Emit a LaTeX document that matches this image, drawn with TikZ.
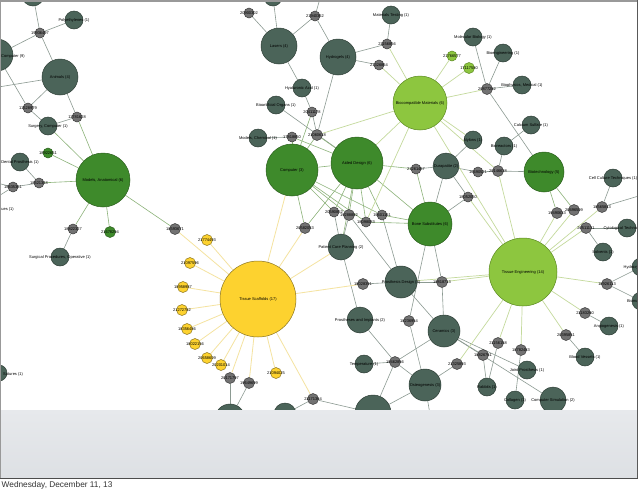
\documentclass[tikz,border=0pt]{standalone}
\usepackage{fontspec}
\setmainfont{Liberation Sans}
\pgfdeclarelayer{bgl}
\pgfdeclarelayer{edges}
\pgfsetlayers{bgl,edges,main}
\definecolor{slate}{HTML}{4B6459}
\definecolor{slatebd}{HTML}{2E3E36}
\definecolor{grayn}{HTML}{727272}
\definecolor{graybd}{HTML}{3A3A3A}
\definecolor{dkg}{HTML}{3E8A2B}
\definecolor{dkgbd}{HTML}{2A5E1C}
\definecolor{ltg}{HTML}{8DC63F}
\definecolor{ltgbd}{HTML}{5C8A22}
\definecolor{yel}{HTML}{FDD22F}
\definecolor{yelbd}{HTML}{8A7420}
\definecolor{egc}{HTML}{8C9A92}
\definecolor{edgc}{HTML}{8DB37A}
\definecolor{elgc}{HTML}{C4DA9C}
\definecolor{eyc}{HTML}{F5E3A0}
\definecolor{bandtop}{HTML}{E7E9EC}
\definecolor{bandbot}{HTML}{DDE0E4}
\tikzset{
  nd/.style={circle, inner sep=0pt, line width=0.5pt},
  sl/.style={nd, fill=slate, draw=slatebd},
  gr/.style={nd, fill=grayn, draw=graybd},
  dg/.style={nd, fill=dkg, draw=dkgbd},
  lg/.style={nd, fill=ltg, draw=ltgbd},
  yl/.style={nd, fill=yel, draw=yelbd},
  lbl/.style={font=\fontsize{4}{5}\selectfont, text=black, inner sep=0pt},
  eg/.style={draw=egc, line width=0.6pt},
  edg/.style={draw=edgc, line width=0.6pt},
  elg/.style={draw=elgc, line width=0.7pt},
  ey/.style={draw=eyc, line width=0.8pt},
}
\newcommand\mynode[6]{\node[#5, minimum size={2*#4pt}] (#1) at (#2,#3) {};\node[lbl] at (#1.center) {#6};}
\begin{document}
\begin{tikzpicture}[x=1pt,y=-1pt]
\useasboundingbox (0,0) rectangle (638,491);
\begin{pgfonlayer}{bgl}
\fill[white] (0,0) rectangle (638,491);
\end{pgfonlayer}
% ---- top left
\mynode{t0}{33}{-5}{11}{sl}{}
\mynode{poly}{74}{20}{9}{sl}{Polyethylenes (1)}
\mynode{g19936497}{40}{33}{5}{gr}{19936497}
\node[sl, minimum size=32pt] (comp9) at (-3,55) {};
\node[lbl, anchor=west] at (1,56) {Computer (9)};
\mynode{anim}{60}{77}{18}{sl}{Animals (4)}
\mynode{g11528979}{28}{108}{5}{gr}{11528979}
\mynode{g11781628}{77}{117}{5}{gr}{11781628}
\mynode{surgc}{48}{126}{9}{sl}{Surgery, Computer (1)}
\mynode{grn18922651}{48}{153}{5}{dg}{18922651}
\mynode{dental}{20}{162}{9}{sl}{Dental Prosthesis (1)}
\mynode{g18521348}{39}{183}{5}{gr}{18521348}
\mynode{g18635361}{13}{187}{5}{gr}{18635361}
\node[sl, minimum size=18pt] (tissues) at (-22,209) {};
\node[lbl, anchor=east] at (14,209) {Tissues (1)};
\mynode{modanat}{103}{180}{27}{dg}{Models, Anatomical (6)}
\mynode{g18822327}{73}{229}{5}{gr}{18822327}
\mynode{grn21678294}{110}{232}{5.5}{dg}{21678294}
\mynode{g18593671}{175}{229}{5.5}{gr}{18593671}
\mynode{surgproc}{60}{257}{9}{sl}{Surgical Procedures, Operative (1)}
\node[sl, minimum size=16pt] (sutures) at (-1,373) {};
\node[lbl, anchor=west] at (3,374) {Sutures (1)};
% ---- top middle
\mynode{ttop}{273}{-3}{9}{sl}{}
\mynode{g20900302}{249}{13}{5}{gr}{20900302}
\mynode{g21940362}{315}{16}{5}{gr}{21940362}
\mynode{lasers}{279}{46}{18}{sl}{Lasers (4)}
\mynode{hydro}{338}{57}{18}{sl}{Hydrogels (4)}
\mynode{mattest}{391}{15}{9}{sl}{Materials Testing (1)}
\mynode{g21156856}{387}{44}{5}{gr}{21156856}
\mynode{g21326864}{379}{65}{5}{gr}{21326864}
\mynode{hyal}{302}{88}{9}{sl}{Hyaluronic Acid (1)}
\mynode{bioart}{276}{105}{9}{sl}{Bioartificial Organs (1)}
\mynode{g20411178}{312}{112}{5}{gr}{20411178}
\mynode{g21060618}{317}{135}{5.5}{gr}{21060618}
\mynode{modchem}{258}{138}{9}{sl}{Models, Chemical (1)}
\mynode{g17818850}{292}{137}{5}{gr}{17818850}
\mynode{biocomp}{420}{103}{27}{lg}{Biocompatible Materials (6)}
\mynode{lg21766577}{452}{56}{5}{lg}{21766577}
\mynode{lg17117580}{469}{68}{5.5}{lg}{17117580}
\mynode{molbio}{473}{37}{9}{sl}{Molecular Biology (1)}
\mynode{bioeng}{503}{53}{9}{sl}{Bioengineering (1)}
\mynode{g20877282}{487}{89}{5.5}{gr}{20877282}
\mynode{biophys}{522}{85}{9}{sl}{Biophysics, Medical (1)}
\mynode{calsulf}{531}{125}{9}{sl}{Calcium Sulfate (1)}
\mynode{nylons}{473}{140}{9}{sl}{Nylons (1)}
\mynode{bioreact}{504}{146}{9}{sl}{Bioreactors (1)}
% ---- middle
\mynode{computer3}{292}{170}{26}{dg}{Computer (3)}
\mynode{aided}{357}{163}{26}{dg}{Aided Design (6)}
\mynode{g21261467}{416}{169}{5}{gr}{21261467}
\mynode{durap}{446}{166}{13}{sl}{Durapatite (2)}
\mynode{g16690521}{478}{172}{5}{gr}{16690521}
\mynode{g20146638}{498}{171}{5.5}{gr}{20146638}
\mynode{biotech}{544}{172}{20}{dg}{Biotechnology (5)}
\mynode{g18052050}{468}{197}{5}{gr}{18052050}
\mynode{g20590852}{334}{212}{5}{gr}{20590852}
\mynode{g19288882}{349}{215}{5.5}{gr}{19288882}
\mynode{g19601161}{382}{215}{5}{gr}{19601161}
\mynode{g18098083}{366}{222}{5}{gr}{18098083}
\mynode{g20582053}{305}{228}{5.5}{gr}{20582053}
\mynode{bonesub}{430}{224}{22}{dg}{Bone Substitutes (6)}
\mynode{patcare}{341}{247}{13}{sl}{Patient Care Planning (2)}
\mynode{cellcult}{613}{178}{9}{sl}{Cell Culture Techniques (1)}
\mynode{g18565843}{602}{207}{5.5}{gr}{18565843}
\mynode{g19490633}{557}{213}{5.5}{gr}{19490633}
\mynode{g20496509}{574}{210}{5.5}{gr}{20496509}
\mynode{g20511131}{586}{228}{5.5}{gr}{20511131}
\mynode{cytol}{627}{228}{9}{sl}{Cytological Techniques (1)}
\mynode{solv}{603}{252}{9}{sl}{Solvents (1)}
\mynode{hydrox}{641}{267}{9}{sl}{Hydroxyapatites (1)}
% ---- scaffolds
\mynode{y21774493}{207}{240}{5.5}{yl}{21774493}
\mynode{y21097596}{190}{263}{5.5}{yl}{21097596}
\mynode{y18958987}{183}{287}{5.5}{yl}{18958987}
\mynode{y21272782}{182}{310}{5.5}{yl}{21272782}
\mynode{y18356486}{187}{329}{5.5}{yl}{18356486}
\mynode{y18022156}{195}{344}{5.5}{yl}{18022156}
\mynode{y20658609}{207}{358}{5.5}{yl}{20658609}
\mynode{y20201014}{221}{365}{5.5}{yl}{20201014}
\mynode{y21094025}{276}{373}{5.5}{yl}{21094025}
\mynode{g20171797}{230}{378}{5.5}{gr}{20171797}
\mynode{g19649699}{249}{383}{5.5}{gr}{19649699}
\mynode{ts}{258}{299}{38}{yl}{Tissue Scaffolds (17)}
\mynode{g21171364}{313}{399}{5.5}{gr}{21171364}
% ---- bottom middle / right
\mynode{b1}{230}{419}{15}{sl}{}
\mynode{b2}{285}{414}{11}{sl}{}
\mynode{b3}{373}{413}{18}{sl}{}
\mynode{osteo}{425}{385}{16}{sl}{Osteogenesis (3)}
\mynode{g21325893}{457}{364}{5.5}{gr}{21325893}
\mynode{temp}{364}{364}{9}{sl}{Temperature (1)}
\mynode{g19462856}{395}{362}{5.5}{gr}{19462856}
\mynode{protimpl}{360}{320}{13}{sl}{Prostheses and Implants (2)}
\mynode{g18236954}{409}{321}{5.5}{gr}{18236954}
\mynode{ceram}{444}{331}{16}{sl}{Ceramics (3)}
\mynode{prosdes}{401}{282}{16}{sl}{Prosthesis Design (3)}
\mynode{g18028391}{363}{284}{5.5}{gr}{18028391}
\mynode{g19818713}{442}{282}{5.5}{gr}{19818713}
\mynode{te}{523}{272}{34}{lg}{Tissue Engineering (14)}
\mynode{g18926113}{607}{284}{5.5}{gr}{18926113}
\mynode{biomat}{641}{301}{9}{sl}{Biomaterials (1)}
\mynode{g21183260}{585}{313}{5.5}{gr}{21183260}
\mynode{angio}{609}{326}{9}{sl}{Angiogenesis (1)}
\mynode{g20395851}{566}{335}{5.5}{gr}{20395851}
\mynode{bloodv}{585}{357}{9}{sl}{Blood Vessels (1)}
\mynode{g21156158}{498}{343}{5.5}{gr}{21156158}
\mynode{g18782483}{521}{350}{5.5}{gr}{18782483}
\mynode{g18826761}{483}{355}{5.5}{gr}{18826761}
\mynode{jointp}{527}{370}{9}{sl}{Joint Prosthesis (1)}
\mynode{rabbits}{487}{387}{9}{sl}{Rabbits (1)}
\mynode{collagen}{515}{400}{9}{sl}{Collagen (1)}
\mynode{compsim}{553}{400}{13}{sl}{Computer Simulation (2)}
% off-canvas ends
\coordinate (offA) at (-20,90);
\coordinate (offB) at (-15,180);
\coordinate (offT) at (323,-12);
\coordinate (offR) at (652,192);
\coordinate (offBo) at (433,432);
\coordinate (offBo2) at (566,432);
\begin{pgfonlayer}{edges}
\foreach \a/\b in {t0/g19936497, g19936497/poly, g19936497/comp9, g19936497/anim, comp9/g11528979, anim/g11528979, anim/g11781628, g11528979/surgc, g11781628/surgc, offA/anim, dental/g18521348, g18635361/g18521348, g18635361/offB, g18635361/tissues, g18822327/surgproc, ttop/lasers, g20900302/lasers, lasers/g21940362, g21940362/offT, g21940362/hydro, mattest/g21156856, g21156856/hydro, g21326864/hydro, lasers/hyal, hyal/g20411178, g20411178/g21060618, hydro/g21060618, bioart/aided, modchem/g17818850, g20877282/molbio, g20877282/bioeng, g20877282/biophys, g20877282/biotech, g21261467/durap, patcare/g20590852, patcare/g19288882, patcare/protimpl, durap/g16690521, g16690521/g20146638, g20146638/biotech, bioreact/g20146638, calsulf/bioreact, nylons/durap, durap/g18052050, g18052050/bonesub, durap/bonesub, cellcult/g18565843, g18565843/offR, g20511131/cytol, g20511131/solv, g20171797/b1, g19649699/b1, g21171364/b2, g21171364/b3, g19462856/b3, osteo/b3, osteo/offBo, protimpl/g19462856, temp/g19462856, ceram/g19462856, g19462856/osteo, g18236954/osteo, osteo/g21325893, prosdes/g18028391, prosdes/ceram, g19288882/prosdes, g19601161/prosdes, g19818713/ceram, g19818713/prosdes, ceram/g18826761, ceram/compsim, ceram/jointp, g18826761/rabbits, g21156158/rabbits, g18782483/collagen, g20395851/bloodv, g21183260/angio, g18926113/biomat, g18926113/hydrox, compsim/offBo2, bonesub/g18236954, bonesub/g19818713}
  \draw[eg] (\a) -- (\b);
\foreach \a/\b in {surgc/modanat, g11781628/modanat, grn18922651/modanat, g18521348/modanat, modanat/g18822327, modanat/grn21678294, modanat/g18593671, g20411178/computer3, g17818850/computer3, g17818850/aided, g21060618/computer3, g21060618/aided, computer3/aided, computer3/g20582053, computer3/g20590852, computer3/g19288882, computer3/g18098083, computer3/g19601161, aided/g21261467, g21261467/bonesub, aided/g20590852, aided/g19288882, aided/g18098083, aided/g19601161, aided/patcare, aided/g20582053, aided/bonesub, g19601161/bonesub, g18098083/bonesub, biotech/g19490633, biotech/g20496509}
  \draw[edg] (\a) -- (\b);
\foreach \a/\b in {g21156856/biocomp, g21326864/biocomp, g21060618/biocomp, biocomp/lg21766577, biocomp/lg17117580, biocomp/g20877282, biocomp/nylons, biocomp/aided, biocomp/g18098083, biocomp/te, biocomp/g20146638, g20146638/te, g18052050/te, g19490633/te, g20496509/te, g18565843/te, g20511131/te, g21325893/te, g19818713/te, prosdes/te, te/g21156158, te/g18782483, te/g20395851, te/g21183260, te/g18926113}
  \draw[elg] (\a) -- (\b);
\foreach \a/\b in {g18593671/ts, ts/y21774493, ts/y21097596, ts/y18958987, ts/y21272782, ts/y18356486, ts/y18022156, ts/y20658609, ts/y20201014, ts/g20171797, ts/g19649699, ts/y21094025, ts/g21171364, ts/computer3, ts/g20582053, ts/patcare, ts/g18028391}
  \draw[ey] (\a) -- (\b);
\end{pgfonlayer}
% ---- slide band, frame and footer
\shade[top color=bandtop, bottom color=bandbot] (0,410) rectangle (638,478.5);
\fill[black!40] (0,0) rectangle (638,2);
\fill[black!40] (0,0) rectangle (1.2,478.5);
\fill[black!65] (636.8,0) rectangle (638,478.5);
\fill[black!70] (0,477.8) rectangle (638,479.2);
\node[font=\fontsize{8.3}{10}\selectfont, text=black!80, anchor=west, inner sep=0pt] (footer) at (1.5,485.5) {Wednesday, December 11, 13};
\end{tikzpicture}
\end{document}
